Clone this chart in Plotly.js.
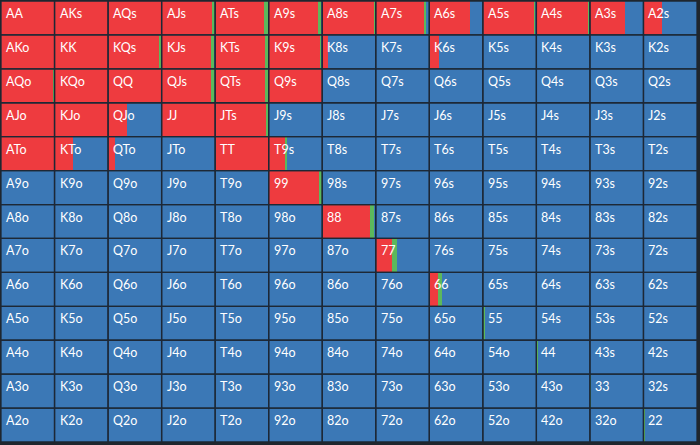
<!DOCTYPE html>
<html>
<head>
<meta charset="utf-8">
<script src="https://cdn.plot.ly/plotly-3.0.1.min.js"></script>
<style>
  html, body { margin: 0; padding: 0; background: #1f262e; }
  #chart { width: 700px; height: 445px; }
</style>
</head>
<body>
<div id="chart"></div>
<script>
// Hand ranks, row/column order of the grid
const ranks = ['A','K','Q','J','T','9','8','7','6','5','4','3','2'];

// Fraction of each hand that is raised (red), row by row
const raiseA = [1.00, 1.00, 1.00, 0.94, 0.91, 0.92, 0.96, 0.90, 0.76, 0.96, 0.97, 0.66, 0.34];
const raiseK = [1.00, 1.00, 0.95, 0.93, 0.94, 0.95, 0.11, 0.00, 0.19, 0.00, 0.00, 0.00, 0.00];
const raiseQ = [0.97, 1.00, 1.00, 0.92, 0.94, 1.00, 0.00, 0.00, 0.00, 0.00, 0.00, 0.00, 0.00];
const raiseJ = [1.00, 1.00, 0.35, 1.00, 0.95, 0.00, 0.00, 0.00, 0.00, 0.00, 0.00, 0.00, 0.00];
const raiseT = [1.00, 0.35, 0.12, 0.00, 1.00, 0.30, 0.00, 0.00, 0.00, 0.00, 0.00, 0.00, 0.00];
const raise9 = [0.00, 0.00, 0.00, 0.00, 0.00, 0.94, 0.00, 0.00, 0.00, 0.00, 0.00, 0.00, 0.00];
const raise8 = [0.00, 0.00, 0.00, 0.00, 0.00, 0.00, 0.90, 0.00, 0.00, 0.00, 0.00, 0.00, 0.00];
const raise7 = [0.00, 0.00, 0.00, 0.00, 0.00, 0.00, 0.00, 0.31, 0.00, 0.00, 0.00, 0.00, 0.00];
const raise6 = [0.00, 0.00, 0.00, 0.00, 0.00, 0.00, 0.00, 0.00, 0.16, 0.00, 0.00, 0.00, 0.00];
const raise5 = [0.00, 0.00, 0.00, 0.00, 0.00, 0.00, 0.00, 0.00, 0.00, 0.00, 0.00, 0.00, 0.00];
const raise4 = [0.00, 0.00, 0.00, 0.00, 0.00, 0.00, 0.00, 0.00, 0.00, 0.00, 0.00, 0.00, 0.00];
const raise3 = [0.00, 0.00, 0.00, 0.00, 0.00, 0.00, 0.00, 0.00, 0.00, 0.00, 0.00, 0.00, 0.00];
const raise2 = [0.00, 0.00, 0.00, 0.00, 0.00, 0.00, 0.00, 0.00, 0.00, 0.00, 0.00, 0.00, 0.00];

// Fraction of each hand that is called (green), row by row
const callA = [0.00, 0.00, 0.00, 0.06, 0.07, 0.06, 0.035, 0.03, 0.00, 0.02, 0.02, 0.00, 0.00];
const callK = [0.00, 0.00, 0.05, 0.05, 0.05, 0.03, 0.00, 0.00, 0.00, 0.00, 0.00, 0.00, 0.00];
const callQ = [0.03, 0.00, 0.00, 0.07, 0.05, 0.00, 0.00, 0.00, 0.00, 0.00, 0.00, 0.00, 0.00];
const callJ = [0.00, 0.00, 0.00, 0.00, 0.04, 0.00, 0.00, 0.00, 0.00, 0.00, 0.00, 0.00, 0.00];
const callT = [0.00, 0.00, 0.00, 0.00, 0.00, 0.04, 0.00, 0.00, 0.00, 0.00, 0.00, 0.00, 0.00];
const call9 = [0.00, 0.00, 0.00, 0.00, 0.00, 0.05, 0.00, 0.00, 0.00, 0.00, 0.00, 0.00, 0.00];
const call8 = [0.00, 0.00, 0.00, 0.00, 0.00, 0.00, 0.07, 0.00, 0.00, 0.00, 0.00, 0.00, 0.00];
const call7 = [0.00, 0.00, 0.00, 0.00, 0.00, 0.00, 0.00, 0.09, 0.00, 0.00, 0.00, 0.00, 0.00];
const call6 = [0.00, 0.00, 0.00, 0.00, 0.00, 0.00, 0.00, 0.00, 0.08, 0.00, 0.00, 0.00, 0.00];
const call5 = [0.00, 0.00, 0.00, 0.00, 0.00, 0.00, 0.00, 0.00, 0.00, 0.04, 0.00, 0.00, 0.00];
const call4 = [0.00, 0.00, 0.00, 0.00, 0.00, 0.00, 0.00, 0.00, 0.00, 0.00, 0.03, 0.00, 0.00];
const call3 = [0.00, 0.00, 0.00, 0.00, 0.00, 0.00, 0.00, 0.00, 0.00, 0.00, 0.00, 0.025, 0.00];
const call2 = [0.00, 0.00, 0.00, 0.00, 0.00, 0.00, 0.00, 0.00, 0.00, 0.00, 0.00, 0.00, 0.03];

const raiseRows = [raiseA, raiseK, raiseQ, raiseJ, raiseT, raise9, raise8, raise7, raise6, raise5, raise4, raise3, raise2];
const callRows  = [callA, callK, callQ, callJ, callT, call9, call8, call7, call6, call5, call4, call3, call2];

const RED = '#ee3b3f', GREEN = '#5cb85c', BLUE = '#3b78b6', BORDER = '#1d2836';

function handLabel(r, c) {
  if (r === c) return ranks[r] + ranks[c];
  if (c > r) return ranks[r] + ranks[c] + 's';
  return ranks[c] + ranks[r] + 'o';
}

const segs = { red: {x: [], y: [], base: []}, green: {x: [], y: [], base: []}, blue: {x: [], y: [], base: []} };
const cellX = [], cellY = [], cellBase = [];
const annotations = [];

for (let r = 0; r < 13; r++) {
  for (let c = 0; c < 13; c++) {
    const rf = raiseRows[r][c];
    const cf = callRows[r][c];
    const bf = Math.max(0, 1 - rf - cf);
    const yc = r + 0.5;
    if (rf > 0) { segs.red.x.push(rf); segs.red.y.push(yc); segs.red.base.push(c); }
    if (cf > 0) { segs.green.x.push(cf); segs.green.y.push(yc); segs.green.base.push(c + rf); }
    if (bf > 0) { segs.blue.x.push(bf); segs.blue.y.push(yc); segs.blue.base.push(c + rf + cf); }
    cellX.push(1); cellY.push(yc); cellBase.push(c);
    annotations.push({
      x: c, y: r, xref: 'x', yref: 'y',
      xanchor: 'left', yanchor: 'top',
      xshift: 3, yshift: -3,
      text: handLabel(r, c), showarrow: false,
      font: { family: 'Lato, "Open Sans", sans-serif', size: 12.5, color: '#ffffff' }
    });
  }
}

function segTrace(s, color) {
  return {
    type: 'bar', orientation: 'h',
    x: s.x, y: s.y, base: s.base, width: 1,
    marker: { color: color, line: { width: 0 } },
    hoverinfo: 'skip', showlegend: false
  };
}

const traces = [
  segTrace(segs.blue, BLUE),
  segTrace(segs.red, RED),
  segTrace(segs.green, GREEN),
  {
    type: 'bar', orientation: 'h',
    x: cellX, y: cellY, base: cellBase, width: 1,
    marker: { color: 'rgba(0,0,0,0)', line: { color: BORDER, width: 1.3 } },
    hoverinfo: 'skip', showlegend: false
  }
];

const layout = {
  width: 700, height: 445,
  margin: { l: 1, r: 3, t: 1, b: 3, pad: 0 },
  paper_bgcolor: '#1f262e',
  plot_bgcolor: BLUE,
  barmode: 'overlay',
  bargap: 0,
  showlegend: false,
  xaxis: { range: [0, 13], showgrid: false, zeroline: false, showticklabels: false, ticks: '', fixedrange: true },
  yaxis: { range: [13, 0], showgrid: false, zeroline: false, showticklabels: false, ticks: '', fixedrange: true },
  annotations: annotations
};

Plotly.newPlot('chart', traces, layout, { staticPlot: true, displayModeBar: false });
</script>
</body>
</html>
